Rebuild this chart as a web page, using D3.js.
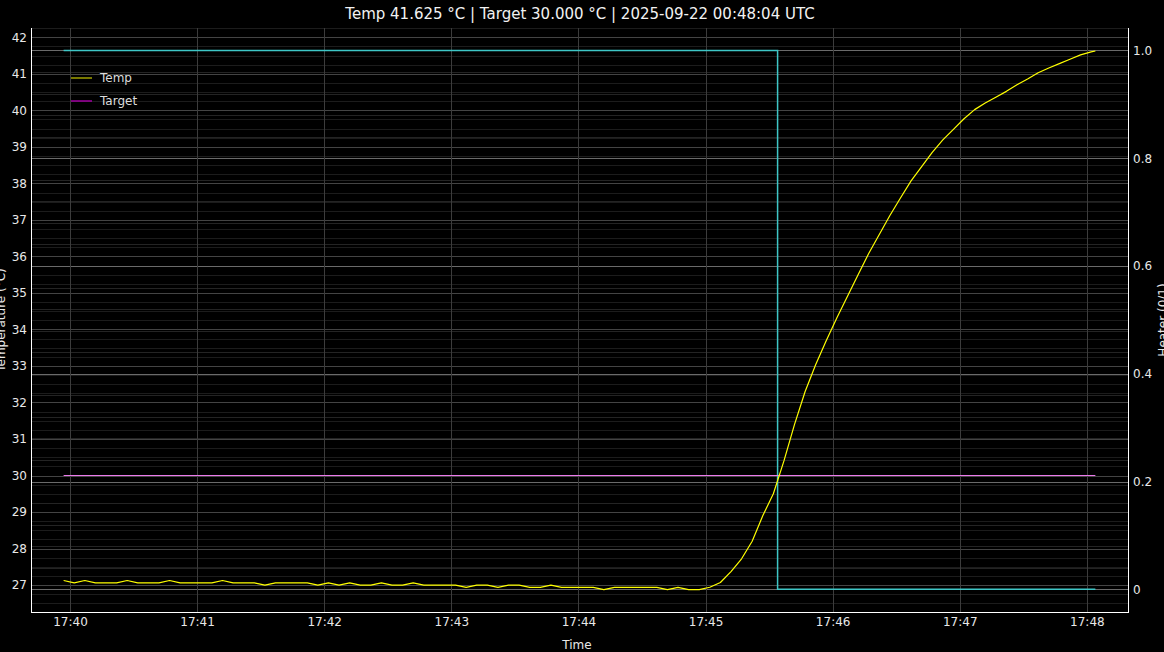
<!DOCTYPE html>
<html lang="en">
<head>
    <meta charset="UTF-8">
    <title>Temp / Heater</title>
    <script src="https://d3js.org/d3.v7.min.js"></script>
    <style>
        html, body { margin: 0; padding: 0; background: #000; }
        svg { display: block; font-family: "DejaVu Sans", sans-serif; }
    </style>
</head>
<body>

<script>
// sample offsets (s) from 17:39:57 and readings
const startTime = "2025-09-21T17:39:57Z";
const tempSeconds = [0,5,10,15,20,25,30,35,40,45,50,55,60,65,70,75,80,85,90,95,
    100,105,110,115,120,125,130,135,140,145,150,155,160,165,170,175,180,185,190,195,
    200,205,210,215,220,225,230,235,240,245,250,255,260,265,270,275,280,285,290,295,
    300,305,310,315,320,325,330,335,340,345,350,355,360,365,370,375,380,385,390,395,
    400,405,410,415,420,425,430,435,440,445,450,455,460,465,470,475,480,485,487];
const tempValues = [27.125,27.0625,27.125,27.0625,27.0625,27.0625,27.125,27.0625,27.0625,27.0625,
    27.125,27.0625,27.0625,27.0625,27.0625,27.125,27.0625,27.0625,27.0625,27.0,
    27.0625,27.0625,27.0625,27.0625,27.0,27.0625,27.0,27.0625,27.0,27.0,
    27.0625,27.0,27.0,27.0625,27.0,27.0,27.0,27.0,26.9375,27.0,
    27.0,26.9375,27.0,27.0,26.9375,26.9375,27.0,26.9375,26.9375,26.9375,
    26.9375,26.875,26.9375,26.9375,26.9375,26.9375,26.9375,26.875,26.9375,26.875,
    26.875,26.94,27.07,27.37,27.72,28.2,28.9,29.5,30.4,31.4,
    32.3,33.04,33.7,34.32,34.91,35.5,36.08,36.6,37.12,37.6,
    38.07,38.46,38.85,39.19,39.48,39.77,40.02,40.2,40.36,40.52,
    40.7,40.86,41.03,41.16,41.28,41.4,41.52,41.6,41.625];
const targetSeconds = [0, 487];
const targetValues = [30, 30];
const heaterSeconds = [0, 337, 487];
const heaterValues = [1, 0, 0];

const tempTicks = [27,28,29,30,31,32,33,34,35,36,37,38,39,40,41,42];
const heaterTicks = [0, 0.2, 0.4, 0.6, 0.8, 1.0];
const titleText = "Temp 41.625 °C | Target 30.000 °C | 2025-09-22 00:48:04 UTC";

const width = 1164, height = 652;
const plotLeft = 31, plotRight = 1128, plotTop = 28, plotBottom = 612;

const t0 = new Date(startTime).getTime();
const at = s => new Date(t0 + s * 1000);

const x = d3.scaleUtc()
    .domain([at(-15.4), at(502.4)])
    .range([plotLeft, plotRight]);
const y = d3.scaleLinear().domain([26.263, 42.255]).range([plotBottom, plotTop]);
const y2 = d3.scaleLinear().domain([-0.042, 1.0416]).range([plotBottom, plotTop]);

const svg = d3.select("body").append("svg")
    .attr("width", width)
    .attr("height", height);

svg.append("rect").attr("width", width).attr("height", height).attr("fill", "#000");

// grids
const grid = svg.append("g").attr("shape-rendering", "crispEdges");
const minorLeft = d3.range(26.5, 42.26, 0.25).filter(v => Math.abs(v - Math.round(v)) > 0.01);
const minorRight = d3.range(0, 1.04, 0.04).filter(v => Math.abs(v * 5 - Math.round(v * 5)) > 0.01);
const py = v => Math.round(v) + 0.5;

grid.selectAll(".ml").data(minorLeft).enter().append("line")
    .attr("x1", plotLeft).attr("x2", plotRight)
    .attr("y1", d => py(y(d))).attr("y2", d => py(y(d)))
    .attr("stroke", "#1c1c1c");
grid.selectAll(".mr").data(minorRight).enter().append("line")
    .attr("x1", plotLeft).attr("x2", plotRight)
    .attr("y1", d => py(y2(d))).attr("y2", d => py(y2(d)))
    .attr("stroke", "#242424");
grid.selectAll(".gl").data(tempTicks).enter().append("line")
    .attr("x1", plotLeft).attr("x2", plotRight)
    .attr("y1", d => py(y(d))).attr("y2", d => py(y(d)))
    .attr("stroke", "#444");
grid.selectAll(".gr").data(heaterTicks).enter().append("line")
    .attr("x1", plotLeft).attr("x2", plotRight)
    .attr("y1", d => py(y2(d))).attr("y2", d => py(y2(d)))
    .attr("stroke", "#6a6a6a");
grid.selectAll(".gx").data(x.ticks(d3.utcMinute.every(1))).enter().append("line")
    .attr("y1", plotTop).attr("y2", plotBottom)
    .attr("x1", d => py(x(d))).attr("x2", d => py(x(d)))
    .attr("stroke", "#3c3c3c");

// series
const heaterLine = d3.line()
    .curve(d3.curveStepAfter)
    .x((d, i) => x(at(heaterSeconds[i])))
    .y(d => y2(d));
svg.append("path")
    .attr("d", heaterLine(heaterValues))
    .attr("fill", "none")
    .attr("stroke", "#3ec6c6")
    .attr("stroke-width", 1.5);

const tempLine = d3.line()
    .x((d, i) => x(at(tempSeconds[i])))
    .y(d => y(d));
const targetLine = d3.line()
    .x((d, i) => x(at(targetSeconds[i])))
    .y(d => y(d));

svg.append("path")
    .attr("d", targetLine(targetValues))
    .attr("fill", "none")
    .attr("stroke", "#f07cf0")
    .attr("stroke-width", 1);

svg.append("path")
    .attr("d", tempLine(tempValues))
    .attr("fill", "none")
    .attr("stroke", "#ffff00")
    .attr("stroke-width", 1.2)
    .attr("stroke-linejoin", "round");

// axes
const xAxis = d3.axisBottom(x)
    .ticks(d3.utcMinute.every(1))
    .tickFormat(d3.utcFormat("%H:%M"))
    .tickSize(0).tickPadding(5);
const yAxis = d3.axisLeft(y).tickValues(tempTicks).tickSize(0).tickPadding(4);
const y2Axis = d3.axisRight(y2).tickValues(heaterTicks)
    .tickFormat(d => d === 0 ? "0" : d.toFixed(1))
    .tickSize(0).tickPadding(5);

function styleAxis(g) {
    g.select(".domain").remove();
    g.selectAll("text").attr("fill", "#e8e8e8").attr("font-size", 12)
        .attr("font-family", "DejaVu Sans, sans-serif");
}
svg.append("g").attr("transform", `translate(0,${plotBottom})`).call(xAxis).call(styleAxis);
svg.append("g").attr("transform", `translate(${plotLeft},0)`).call(yAxis).call(styleAxis);
svg.append("g").attr("transform", `translate(${plotRight},0)`).call(y2Axis).call(styleAxis);

// spines
const spines = svg.append("g").attr("stroke", "#fff").attr("shape-rendering", "crispEdges");
spines.append("line").attr("x1", plotLeft + 0.5).attr("x2", plotLeft + 0.5).attr("y1", plotTop).attr("y2", plotBottom + 0.5);
spines.append("line").attr("x1", plotRight + 0.5).attr("x2", plotRight + 0.5).attr("y1", plotTop).attr("y2", plotBottom + 0.5);
spines.append("line").attr("x1", plotLeft).attr("x2", plotRight + 1).attr("y1", plotBottom + 0.5).attr("y2", plotBottom + 0.5);

// labels (axis titles are partly outside the page, as in the original)
svg.append("text")
    .attr("x", 580).attr("y", 19)
    .attr("text-anchor", "middle")
    .attr("fill", "#f2f2f2")
    .attr("font-size", 15)
    .text(titleText);
svg.append("text")
    .attr("x", 577).attr("y", 649)
    .attr("text-anchor", "middle")
    .attr("fill", "#e8e8e8")
    .attr("font-size", 12)
    .text("Time");
svg.append("text")
    .attr("transform", "translate(5,320) rotate(-90)")
    .attr("text-anchor", "middle")
    .attr("fill", "#e8e8e8")
    .attr("font-size", 12)
    .text("Temperature (°C)");
svg.append("text")
    .attr("transform", "translate(1167,320) rotate(-90)")
    .attr("text-anchor", "middle")
    .attr("fill", "#e8e8e8")
    .attr("font-size", 12)
    .text("Heater (0/1)");

// legend
const legendItems = [["Temp", "#a0a000"], ["Target", "#a000a0"]];
const legend = svg.append("g").attr("transform", "translate(71,78)");
legendItems.forEach(([name, color], i) => {
    legend.append("line")
        .attr("x1", 0).attr("x2", 21)
        .attr("y1", i * 23).attr("y2", i * 23)
        .attr("stroke", color).attr("stroke-width", 1.5);
    legend.append("text")
        .attr("x", 29).attr("y", i * 23 + 4)
        .attr("fill", "#dcdcdc")
        .attr("font-size", 12)
        .text(name);
});
</script>

</body>
</html>
